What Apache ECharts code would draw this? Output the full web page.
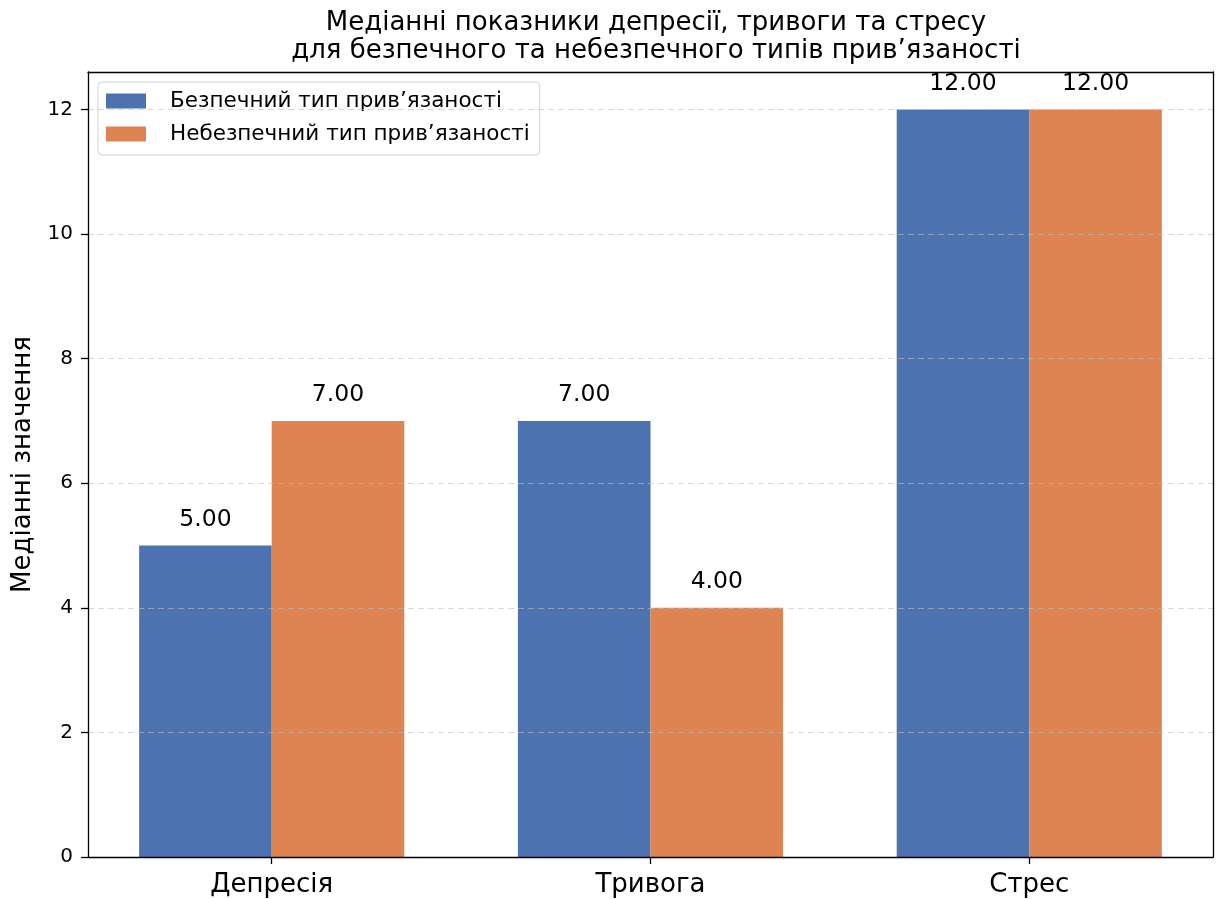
<!DOCTYPE html>
<html><head><meta charset="utf-8">
<script src="https://cdn.jsdelivr.net/npm/echarts@6/dist/echarts.min.js"></script>
<style>html,body{margin:0;padding:0;background:#fff}#c{width:1216px;height:899px}</style>
</head><body><div id="c"></div>
<script>
const categories = ['Депресія', 'Тривога', 'Стрес'];
const seriesNames = ['Безпечний тип прив’язаності', 'Небезпечний тип прив’язаності'];
const secureValues = [5, 7, 12];
const insecureValues = [7, 4, 12];
const yTicks = [0, 2, 4, 6, 8, 10, 12];
const titleLines = ['Медіанні показники депресії, тривоги та стресу', 'для безпечного та небезпечного типів прив’язаності'];
const yName = 'Медіанні значення';

const FONT = 'DejaVu Sans';
const W = 0.35;
const chart = echarts.init(document.getElementById('c'), null, {renderer: 'canvas'});

function barItem(offset) {
  return function (params, api) {
    const x = api.value(0), y = api.value(1);
    const p0 = api.coord([x + offset - W / 2, y]);
    const p1 = api.coord([x + offset + W / 2, 0]);
    return {
      type: 'rect',
      shape: {x: p0[0], y: p0[1], width: p1[0] - p0[0], height: p1[1] - p0[1]},
      style: {fill: api.visual('color'), stroke: api.visual('color'), lineWidth: 0}
    };
  };
}
function labelItem(offset) {
  return function (params, api) {
    const x = api.value(0), y = api.value(1);
    const p = api.coord([x + offset, y]);
    return {
      type: 'text',
      x: p[0], y: p[1] - 13.5,
      style: {text: y.toFixed(2), font: '23.5px "' + FONT + '"', fill: '#000', align: 'center', verticalAlign: 'bottom'}
    };
  };
}
const d1 = secureValues.map((v, i) => [i, v]);
const d2 = insecureValues.map((v, i) => [i, v]);

chart.setOption({
  animation: false,
  textStyle: {fontFamily: FONT},
  color: ['#4c72b0', '#dd8452'],
  title: {
    text: titleLines.join('\n'), left: 651, top: 3.5, textAlign: 'center',
    textStyle: {fontFamily: FONT, fontSize: 26, fontWeight: 'normal', color: '#000', lineHeight: 28.5}
  },
  legend: {
    data: seriesNames, left: 98, top: 82, orient: 'vertical', icon: 'rect',
    itemWidth: 40, itemHeight: 15, itemGap: 11,
    padding: [8, 10, 10, 8],
    borderColor: '#d0d0d0', borderWidth: 1, borderRadius: 4, backgroundColor: 'rgba(255,255,255,0.8)',
    textStyle: {fontFamily: FONT, fontSize: 21.5, color: '#000', padding: [0, 0, 0, 19]}
  },
  grid: {left: 88, right: 3, top: 72, bottom: 42, containLabel: false},
  xAxis: [{
    type: 'value', min: -0.485, max: 2.485, z: 5,
    axisLine: {show: true, onZero: false, lineStyle: {color: '#000', width: 1.3}},
    axisTick: {show: true, customValues: [0, 1, 2], length: 7, lineStyle: {color: '#000', width: 1.3}},
    axisLabel: {customValues: [0, 1, 2], formatter: v => categories[Math.round(v)], fontSize: 26, color: '#000', margin: 15, fontFamily: FONT},
    splitLine: {show: false}
  }, {
    type: 'value', position: 'top', min: -0.485, max: 2.485, z: 5,
    axisLine: {show: true, onZero: false, lineStyle: {color: '#000', width: 1.3}},
    axisTick: {show: false}, axisLabel: {show: false}, splitLine: {show: false}
  }],
  yAxis: [{
    type: 'value', min: 0, max: 12.6, z: 5,
    name: yName, nameLocation: 'middle', nameGap: 51, nameRotate: 90,
    nameTextStyle: {fontFamily: FONT, fontSize: 26, color: '#000'},
    axisLine: {show: true, onZero: false, lineStyle: {color: '#000', width: 1.3}},
    axisTick: {show: true, customValues: yTicks, length: 7, lineStyle: {color: '#000', width: 1.3}},
    axisLabel: {customValues: yTicks, fontSize: 20, color: '#000', margin: 15, fontFamily: FONT},
    splitLine: {show: true, lineStyle: {color: 'rgba(190,190,190,0.6)', type: [6, 4], width: 1}}
  }, {
    type: 'value', position: 'right', min: 0, max: 12.6, z: 5,
    axisLine: {show: true, onZero: false, lineStyle: {color: '#000', width: 1.3}},
    axisTick: {show: false}, axisLabel: {show: false}, splitLine: {show: false}
  }],
  series: [
    {name: seriesNames[0], type: 'custom', renderItem: barItem(-W / 2), data: d1, z: 2, encode: {x: 0, y: 1}},
    {name: seriesNames[1], type: 'custom', renderItem: barItem(W / 2), data: d2, z: 2, encode: {x: 0, y: 1}},
    {name: 'l1', type: 'custom', renderItem: labelItem(-W / 2), data: d1, z: 6, encode: {x: 0, y: 1}, silent: true},
    {name: 'l2', type: 'custom', renderItem: labelItem(W / 2), data: d2, z: 6, encode: {x: 0, y: 1}, silent: true}
  ]
});
</script></body></html>
